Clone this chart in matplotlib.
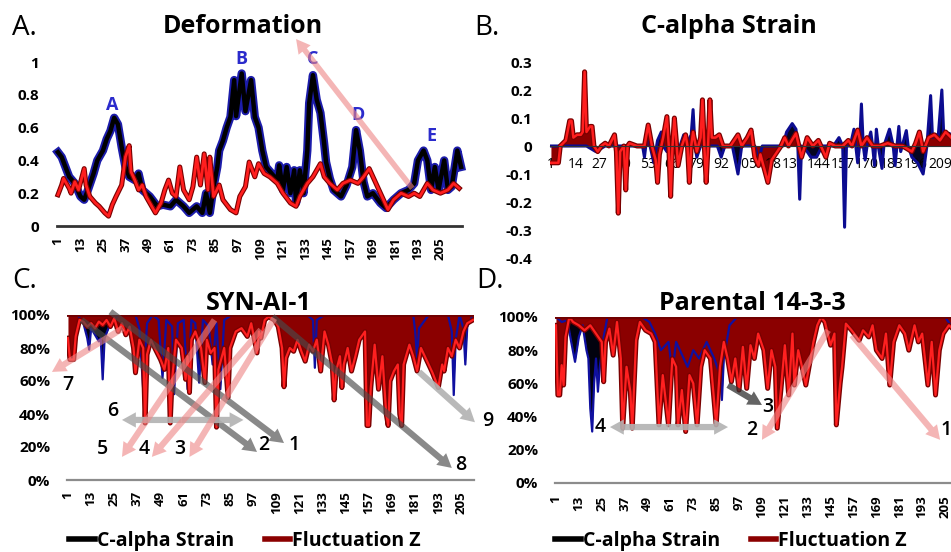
import matplotlib
matplotlib.use("Agg")
import matplotlib.pyplot as plt
import matplotlib.patheffects as pe
from matplotlib.lines import Line2D

plt.rcParams['font.family'] = ['Open Sans', 'DejaVu Sans']

# ---------------- data (residue, value) ----------------
# A. Deformation
res_a_strain = [1, 3, 5, 7, 10, 13, 15, 17, 20, 22, 25, 27, 29, 31, 33, 35, 37, 39, 42, 44,
                46, 50, 54, 57, 61, 64, 68, 71, 75, 78, 80, 82, 84, 86, 87, 89, 91, 93, 95, 96,
                99, 101, 104, 106, 108, 110, 112, 115, 118, 119, 121, 123, 125, 127, 128, 130, 132, 134, 135, 137,
                139, 141, 143, 144, 146, 148, 152, 155, 158, 160, 162, 164, 166, 169, 173, 176, 180, 184, 188, 191,
                193, 196, 198, 200, 202, 204, 207, 209, 211, 214, 216]
val_a_strain = [0.45, 0.42, 0.36, 0.30, 0.26, 0.18, 0.16, 0.22, 0.32, 0.40, 0.46, 0.53, 0.58, 0.66, 0.62, 0.48, 0.36, 0.30, 0.28, 0.32,
                0.22, 0.18, 0.12, 0.13, 0.12, 0.16, 0.12, 0.08, 0.12, 0.08, 0.20, 0.08, 0.24, 0.36, 0.46, 0.52, 0.60, 0.665, 0.89, 0.67,
                0.93, 0.70, 0.89, 0.665, 0.60, 0.46, 0.36, 0.32, 0.28, 0.37, 0.22, 0.36, 0.20, 0.34, 0.14, 0.34, 0.20, 0.46, 0.75, 0.92,
                0.77, 0.69, 0.50, 0.39, 0.29, 0.22, 0.18, 0.25, 0.36, 0.585, 0.46, 0.27, 0.18, 0.20, 0.14, 0.11, 0.16, 0.20, 0.22, 0.26,
                0.40, 0.46, 0.40, 0.22, 0.36, 0.22, 0.40, 0.22, 0.24, 0.46, 0.36]
res_a_fluct = [1, 3, 4, 7, 8, 10, 12, 15, 16, 18, 21, 23, 26, 28, 30, 32, 35, 37, 39, 40,
               42, 44, 46, 48, 51, 53, 56, 58, 60, 62, 64, 66, 68, 71, 73, 75, 77, 79, 81, 82,
               84, 87, 89, 93, 96, 98, 101, 103, 106, 108, 111, 114, 118, 121, 125, 128, 130, 134, 137, 141,
               143, 146, 150, 153, 157, 161, 164, 167, 169, 173, 177, 180, 184, 188, 191, 194, 198, 201, 205, 209,
               212, 215]
val_a_fluct = [0.19, 0.25, 0.29, 0.23, 0.20, 0.27, 0.22, 0.35, 0.25, 0.18, 0.14, 0.12, 0.08, 0.06, 0.13, 0.18, 0.25, 0.42, 0.49, 0.33,
               0.28, 0.22, 0.25, 0.18, 0.12, 0.08, 0.14, 0.22, 0.28, 0.20, 0.18, 0.36, 0.22, 0.16, 0.24, 0.42, 0.25, 0.44, 0.22, 0.42,
               0.18, 0.25, 0.16, 0.10, 0.08, 0.18, 0.24, 0.39, 0.30, 0.38, 0.32, 0.30, 0.26, 0.20, 0.14, 0.12, 0.18, 0.26, 0.30, 0.38,
               0.30, 0.26, 0.22, 0.26, 0.28, 0.26, 0.30, 0.35, 0.30, 0.20, 0.10, 0.16, 0.20, 0.18, 0.20, 0.18, 0.26, 0.22, 0.20, 0.22,
               0.26, 0.23]
peak_labels = ['A', 'B', 'C', 'D', 'E']
peak_res = [30, 99, 137, 161, 200]
peak_val = [0.735, 1.02, 1.02, 0.675, 0.55]

# B. C-alpha Strain
res_b_strain = [1, 20, 25, 30, 50, 51, 53, 54, 56, 58, 60, 61, 63, 66, 70, 72, 73, 76, 77, 78,
                79, 81, 90, 92, 94, 98, 101, 103, 110, 112, 114, 120, 125, 127, 130, 132, 133, 134, 135, 138,
                140, 143, 146, 152, 155, 157, 158, 159, 161, 163, 164, 165, 166, 167, 168, 169, 170, 172, 173, 174,
                175, 176, 178, 179, 182, 184, 185, 186, 187, 188, 191, 192, 194, 197, 200, 202, 204, 205, 207, 208,
                210, 211, 214, 216]
val_b_strain = [0.0, 0.0, -0.02, 0.0, 0.0, -0.04, 0.075, 0.0, -0.06, 0.02, 0.05, 0.0, -0.02, 0.0, 0.0, 0.04, 0.0, 0.04, 0.13, 0.0,
                -0.04, 0.0, 0.0, -0.04, 0.0, 0.0, -0.10, 0.0, 0.0, -0.05, 0.0, 0.0, 0.0, 0.05, 0.08, 0.06, 0.0, -0.19, 0.0, -0.02,
                -0.04, -0.04, 0.0, 0.0, 0.03, 0.0, -0.29, 0.0, 0.0, 0.06, 0.0, -0.06, 0.0, 0.15, 0.0, -0.05, 0.0, 0.05, 0.0, -0.07,
                0.06, 0.0, -0.08, 0.0, 0.06, 0.0, -0.07, 0.0, 0.07, -0.02, 0.055, 0.0, -0.04, -0.06, -0.10, 0.0, 0.18, 0.03, 0.04, 0.03,
                0.20, 0.04, 0.045, 0.03]
res_b_fluct = [1, 5, 6, 9, 11, 12, 13, 15, 17, 18, 19, 20, 22, 23, 24, 26, 28, 30, 32, 35,
               36, 37, 38, 40, 41, 42, 43, 47, 51, 53, 55, 57, 58, 59, 61, 63, 64, 65, 66, 67,
               68, 69, 71, 73, 74, 75, 76, 77, 79, 81, 82, 83, 84, 85, 86, 87, 89, 91, 93, 97,
               101, 103, 106, 108, 110, 112, 113, 115, 117, 119, 121, 124, 126, 128, 132, 135, 138, 141, 144, 148,
               150, 153, 157, 160, 162, 165, 167, 170, 173, 177, 181, 185, 189, 194, 196, 198, 200, 203, 206, 209,
               212, 215]
val_b_fluct = [-0.06, -0.06, 0.0, 0.02, 0.09, 0.09, 0.03, 0.04, 0.04, 0.05, 0.265, 0.05, 0.07, 0.07, 0.0, -0.02, 0.0, 0.01, 0.0, 0.04,
               -0.02, -0.24, -0.02, 0.0, -0.157, 0.0, 0.01, 0.0, 0.0, 0.075, 0.0, -0.05, -0.13, -0.03, 0.03, 0.105, 0.0, -0.18, 0.0, 0.10,
               0.02, -0.07, 0.0, 0.04, 0.0, -0.13, 0.0, 0.05, -0.02, 0.03, 0.165, 0.0, -0.13, 0.0, 0.165, 0.03, 0.03, 0.04, 0.0, 0.0,
               0.04, 0.0, 0.03, 0.057, -0.04, -0.07, -0.03, -0.08, -0.13, -0.05, -0.03, 0.0, 0.03, 0.0, 0.045, -0.04, 0.03, 0.0, 0.02, -0.04,
               0.01, 0.0, 0.0, 0.02, 0.0, 0.057, 0.0, 0.03, 0.0, 0.0, 0.01, 0.0, 0.0, -0.02, 0.01, 0.05, -0.02, 0.03, 0.04, 0.02,
               0.05, 0.03]

# C. SYN-AI-1 (fraction of 100%)
res_c_strain = [1, 6, 9, 11, 12, 13, 15, 17, 18, 19, 20, 23, 27, 30, 33, 36, 38, 40, 42, 45,
                48, 50, 52, 55, 56, 58, 61, 63, 65, 67, 69, 71, 74, 76, 78, 80, 82, 86, 90, 95,
                100, 105, 110, 115, 120, 125, 128, 129, 130, 134, 138, 142, 146, 150, 155, 160, 165, 170, 175, 180,
                181, 182, 183, 188, 193, 198, 200, 201, 202, 204, 206, 207, 208, 211]
val_c_strain = [1.0, 1.0, 0.95, 0.86, 0.79, 0.92, 0.88, 0.84, 0.86, 0.61, 0.86, 0.95, 1.0, 1.0, 1.0, 1.0, 0.92, 0.55, 0.95, 1.0,
                0.97, 0.62, 0.97, 0.93, 0.52, 0.95, 0.97, 0.55, 0.97, 0.95, 0.59, 0.97, 0.93, 0.70, 0.95, 0.55, 0.97, 1.0, 1.0, 1.0,
                1.0, 1.0, 1.0, 1.0, 1.0, 1.0, 0.97, 0.68, 0.97, 1.0, 1.0, 1.0, 1.0, 1.0, 1.0, 1.0, 1.0, 1.0, 1.0, 1.0,
                0.90, 0.74, 0.92, 1.0, 1.0, 1.0, 0.90, 0.515, 0.85, 1.0, 0.92, 0.70, 0.93, 1.0]
res_c_fluct = [1, 2, 4, 5, 7, 9, 11, 13, 15, 17, 19, 21, 23, 25, 27, 29, 31, 33, 35, 36,
               38, 40, 41, 42, 44, 46, 49, 51, 53, 54, 55, 57, 60, 62, 63, 64, 65, 67, 70, 72,
               73, 75, 77, 78, 79, 82, 84, 85, 88, 91, 94, 96, 99, 100, 101, 103, 105, 108, 110, 112,
               113, 114, 116, 118, 120, 122, 124, 126, 128, 130, 132, 134, 136, 138, 139, 140, 142, 143, 144, 146,
               148, 150, 152, 155, 156, 157, 158, 160, 162, 164, 166, 167, 168, 170, 172, 173, 174, 175, 178, 180,
               182, 184, 186, 188, 190, 193, 195, 196, 198, 200, 202, 204, 206, 208, 211]
val_c_fluct = [0.86, 0.73, 0.73, 0.87, 0.97, 0.96, 0.93, 0.95, 0.92, 0.96, 0.94, 0.97, 0.93, 0.98, 0.90, 0.95, 0.88, 0.93, 0.80, 0.65,
               0.85, 0.80, 0.345, 0.76, 0.85, 0.80, 0.73, 0.67, 0.80, 0.345, 0.61, 0.85, 0.80, 0.61, 0.75, 0.53, 0.85, 0.90, 0.80, 0.59,
               0.85, 0.77, 0.80, 0.32, 0.67, 0.80, 0.50, 0.80, 0.90, 0.92, 0.87, 0.95, 0.77, 0.90, 0.86, 0.97, 0.99, 0.97, 0.93, 0.80,
               0.565, 0.74, 0.80, 0.78, 0.85, 0.78, 0.72, 0.82, 0.78, 0.85, 0.66, 0.90, 0.82, 0.70, 0.485, 0.66, 0.75, 0.56, 0.70, 0.80,
               0.66, 0.75, 0.85, 0.90, 0.33, 0.33, 0.56, 0.82, 0.55, 0.75, 0.40, 0.33, 0.60, 0.66, 0.70, 0.40, 0.33, 0.70, 0.82, 0.75,
               0.66, 0.80, 0.75, 0.70, 0.65, 0.56, 0.70, 0.66, 0.80, 0.75, 0.85, 0.80, 0.90, 0.95, 0.97]

# D. Parental 14-3-3
res_d_strain = [1, 4, 7, 9, 11, 13, 15, 17, 18, 19, 20, 21, 22, 23, 24, 26, 28, 31, 34, 38,
                42, 46, 50, 53, 56, 60, 62, 64, 66, 70, 73, 76, 80, 84, 87, 88, 89, 92, 96, 100,
                104, 108, 112, 116, 120, 125, 130, 135, 140, 145, 150, 155, 160, 165, 170, 175, 180, 185, 190, 195,
                200, 205, 208, 212, 214, 216]
val_d_strain = [1.0, 0.97, 0.98, 0.85, 0.73, 0.88, 0.95, 0.80, 0.75, 0.45, 0.31, 0.60, 0.75, 0.55, 0.70, 0.88, 1.0, 1.0, 1.0, 1.0,
                1.0, 1.0, 0.97, 0.90, 0.80, 0.85, 0.67, 0.85, 0.80, 0.70, 0.80, 0.75, 0.85, 0.75, 0.65, 0.50, 0.75, 0.95, 1.0, 1.0,
                1.0, 1.0, 1.0, 1.0, 1.0, 1.0, 1.0, 1.0, 1.0, 1.0, 1.0, 1.0, 1.0, 1.0, 1.0, 1.0, 1.0, 1.0, 1.0, 1.0,
                1.0, 1.0, 0.95, 0.85, 0.97, 1.0]
res_d_fluct = [1, 2, 3, 4, 5, 6, 8, 10, 13, 16, 19, 22, 25, 26, 27, 29, 31, 33, 35, 36,
               38, 40, 41, 43, 45, 48, 51, 53, 55, 57, 60, 62, 64, 65, 67, 69, 71, 73, 75, 77,
               79, 82, 85, 87, 89, 91, 93, 95, 97, 99, 101, 103, 105, 107, 110, 112, 114, 116, 117, 119,
               121, 123, 125, 126, 128, 130, 132, 134, 136, 138, 140, 142, 145, 147, 148, 150, 151, 153, 156, 160,
               162, 165, 167, 169, 172, 174, 176, 178, 181, 184, 186, 189, 191, 193, 196, 198, 200, 202, 204, 207,
               210, 214, 216]
val_d_fluct = [0.95, 0.53, 0.53, 0.71, 0.59, 0.88, 1.0, 0.97, 0.95, 0.92, 0.95, 0.90, 0.85, 0.61, 0.85, 0.93, 0.77, 0.97, 0.75, 0.33,
               0.70, 0.55, 0.33, 0.86, 0.97, 0.92, 0.90, 0.85, 0.35, 0.65, 0.35, 0.75, 0.70, 0.35, 0.56, 0.31, 0.65, 0.60, 0.35, 0.70,
               0.80, 0.75, 0.35, 0.70, 0.85, 0.75, 0.61, 0.75, 0.56, 0.82, 0.57, 0.83, 0.75, 0.90, 0.80, 0.57, 0.80, 0.70, 0.33, 0.57,
               0.83, 0.53, 0.90, 0.59, 0.80, 0.70, 0.59, 0.72, 0.85, 0.95, 1.0, 0.97, 0.83, 0.90, 0.35, 0.60, 0.70, 0.96, 0.92, 0.86,
               0.92, 0.88, 0.95, 0.80, 0.75, 0.90, 0.59, 0.85, 0.95, 0.90, 0.80, 0.95, 0.85, 0.90, 0.59, 0.85, 0.53, 0.80, 0.90, 0.95,
               0.92, 0.95, 0.93]

ticks_12 = list(range(1, 206, 12))
ticks_13 = list(range(1, 210, 13))

# ---------------- figure ----------------
W, H = 951, 552
fig = plt.figure(figsize=(W / 100, H / 100), dpi=100)


def add_ax(left, top, right, bottom):
    return fig.add_axes([left / W, 1 - bottom / H, (right - left) / W, (bottom - top) / H])


def style(ax, xt, yt, ylabels, xlim, ylim, ypad, xpad):
    ax.set_xlim(*xlim)
    ax.set_ylim(*ylim)
    ax.set_xticks(xt)
    ax.set_xticklabels([str(t) for t in xt], rotation=90, fontsize=9.5, fontweight='bold')
    ax.set_yticks(yt)
    ax.set_yticklabels(ylabels, fontsize=11, fontweight='bold')
    ax.tick_params(axis='both', length=0)
    ax.tick_params(axis='y', pad=ypad)
    ax.tick_params(axis='x', pad=xpad)
    for s in ['top', 'left', 'right']:
        ax.spines[s].set_visible(False)
    ax.set_facecolor('none')


dark_fx = [pe.Stroke(linewidth=6, foreground='#1c1caa'), pe.Normal()]
red_fx = [pe.Stroke(linewidth=3.6, foreground='#7a0000'), pe.Normal()]


def arrow(ax, start, tip, color, alpha, tw=0.45):
    ax.annotate('', xy=tip, xytext=start, annotation_clip=False,
                arrowprops=dict(arrowstyle='simple,head_width=1.1,head_length=1.0,tail_width=%s' % tw,
                                fc=color, ec='none', alpha=alpha, shrinkA=0, shrinkB=0,
                                mutation_scale=10, clip_on=False))


def num(ax, x, y, s):
    ax.text(x, y, s, fontsize=14, fontweight='semibold', ha='center', va='center', clip_on=False)


GRAY = '#4a4a4a'
LIGHT = '#b2b2b2'
PINK = '#ee8585'

# ---- A ----
ax_a = add_ax(57, 62, 462, 226)
style(ax_a, ticks_12, [0, 0.2, 0.4, 0.6, 0.8, 1], ['0', '0.2', '0.4', '0.6', '0.8', '1'],
      (0.5, 216.5), (0, 1), 13, 8)
ax_a.spines['bottom'].set_color('#333333')
ax_a.spines['bottom'].set_linewidth(2)
ax_a.plot(res_a_strain, val_a_strain, color='black', lw=3.2, path_effects=dark_fx, clip_on=False)
ax_a.plot(res_a_fluct, val_a_fluct, color='#ff1e1e', lw=2, path_effects=red_fx, clip_on=False)
for lab, r, v in zip(peak_labels, peak_res, peak_val):
    ax_a.text(r, v, lab, color='#2b2bcc', fontsize=13, fontweight='bold', ha='center', va='center', clip_on=False)
arrow(ax_a, (190, 0.23), (128, 1.14), PINK, 0.6, tw=0.4)

# ---- B ----
ax_b = add_ax(550, 62, 954, 258)
style(ax_b, ticks_13, [-0.4, -0.3, -0.2, -0.1, 0, 0.1, 0.2, 0.3],
      ['-0.4', '-0.3', '-0.2', '-0.1', '0', '0.1', '0.2', '0.3'], (0.5, 216.5), (-0.4, 0.3), 13, 8)
ax_b.spines['bottom'].set_position(('data', 0))
ax_b.spines['bottom'].set_color('#333333')
ax_b.fill_between(res_b_strain, val_b_strain, 0, color='#050520', lw=0)
ax_b.plot(res_b_strain, val_b_strain, color='#0c0c90', lw=2.2)
ax_b.fill_between(res_b_fluct, val_b_fluct, 0, color='#8b0000', lw=0)
ax_b.plot(res_b_fluct, val_b_fluct, color='#ff1e1e', lw=1.8, path_effects=red_fx)

# ---- C ----
pct = ['0%', '20%', '40%', '60%', '80%', '100%']
ax_c = add_ax(67, 315, 474, 480)
style(ax_c, ticks_12, [0, 0.2, 0.4, 0.6, 0.8, 1], pct, (0.5, 211.5), (0, 1), 12, 8)
ax_c.spines['bottom'].set_color('#8c8c8c')
ax_c.spines['bottom'].set_linewidth(1.6)
ax_c.fill_between(res_c_strain, val_c_strain, 1, color='#02020e', lw=0)
ax_c.plot(res_c_strain, val_c_strain, color='#1010a0', lw=1.6)
ax_c.fill_between(res_c_fluct, val_c_fluct, 1, color='#8b0000', lw=0)
ax_c.plot(res_c_fluct, val_c_fluct, color='#ff2020', lw=1.6, path_effects=red_fx)
ax_c.axhline(1, color='#700000', lw=2, zorder=3)

arrow(ax_c, (23, 1.02), (113, 0.224), GRAY, 0.65)
arrow(ax_c, (8, 0.97), (99, 0.17), GRAY, 0.65)
arrow(ax_c, (107, 0.99), (200, 0.073), GRAY, 0.65)
arrow(ax_c, (183, 0.655), (212, 0.35), LIGHT, 0.9)
arrow(ax_c, (60, 0.364), (29, 0.364), LIGHT, 0.9)
arrow(ax_c, (60, 0.364), (92, 0.364), LIGHT, 0.9)
arrow(ax_c, (29.5, 0.92), (-7.3, 0.655), PINK, 0.6)
arrow(ax_c, (77, 0.97), (29, 0.14), PINK, 0.6)
arrow(ax_c, (101, 0.91), (44.5, 0.14), PINK, 0.6)
arrow(ax_c, (108, 0.98), (64, 0.14), PINK, 0.6)
for s, r, v in [('1', 118, 0.21), ('2', 102.5, 0.21), ('3', 59, 0.19), ('4', 40.4, 0.19),
                ('5', 19.1, 0.19), ('6', 24.3, 0.42), ('7', 1, 0.576), ('8', 204.5, 0.09),
                ('9', 218.5, 0.36)]:
    num(ax_c, r, v, s)

# ---- D ----
ax_d = add_ax(555, 317, 967, 483)
style(ax_d, ticks_12, [0, 0.2, 0.4, 0.6, 0.8, 1], pct, (0.5, 216.5), (0, 1), 12, 9)
ax_d.spines['bottom'].set_color('#8c8c8c')
ax_d.spines['bottom'].set_linewidth(1.6)
ax_d.fill_between(res_d_strain, val_d_strain, 1, color='#02020e', lw=0)
ax_d.plot(res_d_strain, val_d_strain, color='#1010a0', lw=1.6)
ax_d.fill_between(res_d_fluct, val_d_fluct, 1, color='#8b0000', lw=0)
ax_d.plot(res_d_fluct, val_d_fluct, color='#ff2020', lw=1.6, path_effects=red_fx)
ax_d.axhline(1, color='#700000', lw=2, zorder=3)

arrow(ax_d, (60, 0.337), (29.3, 0.337), LIGHT, 0.9)
arrow(ax_d, (60, 0.337), (91.2, 0.337), LIGHT, 0.9)
arrow(ax_d, (91.2, 0.59), (109, 0.47), '#303030', 0.75)
arrow(ax_d, (143.7, 0.92), (109, 0.26), PINK, 0.6)
arrow(ax_d, (156.2, 0.89), (202.4, 0.26), PINK, 0.6)
for s, r, v in [('1', 205.8, 0.32), ('2', 103.8, 0.32), ('3', 112.2, 0.46), ('4', 24.1, 0.337)]:
    num(ax_d, r, v, s)

# ---- legends ----
handles = [Line2D([0], [0], color='black', lw=4, label='C-alpha Strain'),
           Line2D([0], [0], color='#8b0000', lw=4, label='Fluctuation Z')]
for cx in [245, 731]:
    fig.legend(handles=handles, loc='center', bbox_to_anchor=(cx / W, 1 - 541 / H), ncol=2,
               frameon=False, handlelength=1.3, handletextpad=0.1, columnspacing=1.6,
               prop={'size': 14, 'weight': 'bold'})

# ---- titles and panel letters ----
for x, y, s in [(243, 33, 'Deformation'), (729, 33, 'C-alpha Strain'),
                (259, 310, 'SYN-AI-1'), (752, 310, 'Parental 14-3-3')]:
    fig.text(x / W, 1 - y / H, s, fontsize=18, fontweight='bold', ha='center', va='baseline')
for x, y, s in [(12, 35, 'A.'), (474, 35, 'B.'), (12, 288, 'C.'), (476, 288, 'D.')]:
    fig.text(x / W, 1 - y / H, s, fontsize=20, ha='left', va='baseline')

fig.savefig('out.png', dpi=100)
